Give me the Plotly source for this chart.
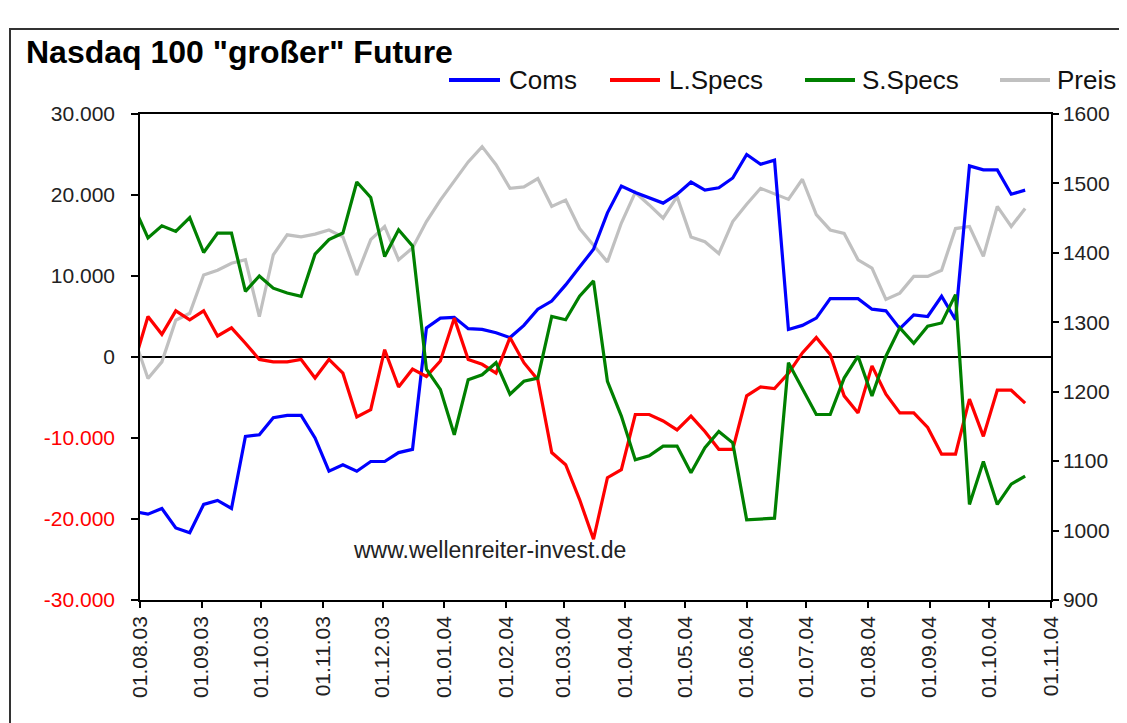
import pandas as pd
import plotly.graph_objects as go

# Weekly COT data (Tuesdays), first point lies just before the axis start
dates = pd.date_range("2003-07-29", periods=65, freq="7D")

coms = [-19050, -19400, -18700, -21100, -21700, -18200, -17700, -18700, -9800, -9600,
        -7500, -7200, -7200, -10000, -14100, -13300, -14100, -12900, -12900, -11800,
        -11400, 3600, 4800, 4900, 3500, 3400, 3000, 2400, 3900, 5900,
        6900, 8900, 11100, 13300, 17800, 21100, 20300, 19700, 19000, 20100,
        21600, 20600, 20900, 22100, 25000, 23800, 24300, 3400, 3900, 4800,
        7200, 7200, 7200, 5900, 5700, 3500, 5200, 5000, 7500, 4600,
        23600, 23100, 23100, 20100, 20600]

l_specs = [-800, 5000, 2800, 5700, 4600, 5700, 2600, 3600, 1700, -300,
           -600, -600, -300, -2600, -300, -2000, -7400, -6500, 900, -3700,
           -1500, -2400, -500, 4800, -300, -900, -2000, 2400, -700, -2800,
           -11800, -13300, -17600, -22500, -14900, -13900, -7100, -7100, -7900, -9000,
           -7300, -9200, -11400, -11400, -4800, -3700, -3900, -2000, 500, 2400,
           300, -4800, -6900, -1100, -4600, -6900, -6900, -8700, -12000, -12000,
           -5200, -9800, -4100, -4100, -5700]

s_specs = [18550, 14700, 16200, 15500, 17200, 12900, 15300, 15300, 8100, 10000,
           8500, 7900, 7500, 12700, 14500, 15300, 21600, 19700, 12400, 15700,
           13700, -1500, -4000, -9600, -2800, -2200, -700, -4600, -3000, -2600,
           5000, 4600, 7500, 9400, -3000, -7300, -12700, -12200, -11000, -11000,
           -14300, -11200, -9200, -10600, -20100, -20000, -19900, -700, -4000, -7100,
           -7100, -2600, 100, -4800, 100, 3600, 1700, 3800, 4200, 7700,
           -18200, -12900, -18200, -15700, -14700]

preis = [1278, 1219, 1243, 1303, 1313, 1368, 1375, 1385, 1390, 1308,
         1397, 1426, 1423, 1427, 1433, 1423, 1368, 1419, 1438, 1390,
         1407, 1445, 1476, 1504, 1531, 1553, 1527, 1493, 1495, 1507,
         1467, 1476, 1435, 1411, 1387, 1443, 1487, 1469, 1450, 1481,
         1423, 1416, 1399, 1445, 1470, 1493, 1485, 1477, 1506, 1455,
         1433, 1428, 1390, 1378, 1333, 1342, 1366, 1366, 1375, 1435,
         1438, 1395, 1467, 1438, 1464]

x_tick_labels = ["01.08.03", "01.09.03", "01.10.03", "01.11.03", "01.12.03",
                 "01.01.04", "01.02.04", "01.03.04", "01.04.04", "01.05.04",
                 "01.06.04", "01.07.04", "01.08.04", "01.09.04", "01.10.04", "01.11.04"]
left_tick_vals = [-30000, -20000, -10000, 0, 10000, 20000, 30000]
left_tick_text = ["-30.000", "-20.000", "-10.000", "0", "10.000", "20.000", "30.000"]

series_names = ["Coms", "L.Specs", "S.Specs", "Preis"]
series_colors = ["#0000FF", "#FF0000", "#008000", "#C0C0C0"]

FONT = "Liberation Sans, Arial, sans-serif"
OFF = 8  # page body margin; figure coordinates = page coordinates - OFF
W, H = 1127 - OFF, 723 - OFF
PL, PR, PT, PB = 140 - OFF, 1051 - OFF, 114 - OFF, 600 - OFF


def px_x(px):  # page pixel -> paper
    return (px - OFF - PL) / (PR - PL)


def px_y(py):
    return (PB - (py - OFF)) / (PB - PT)


fig = go.Figure()
# price on base axis (drawn below the others), right side
fig.add_trace(go.Scatter(x=dates, y=preis, name="Preis", yaxis="y", mode="lines",
                         line=dict(color=series_colors[3], width=3.2), showlegend=False))
for name, vals, col in zip(series_names[:3], [coms, l_specs, s_specs], series_colors[:3]):
    fig.add_trace(go.Scatter(x=dates, y=vals, name=name, yaxis="y2", mode="lines",
                             line=dict(color=col, width=3.2), showlegend=False))

tickvals_x = [pd.to_datetime(t, format="%d.%m.%y") for t in x_tick_labels]
left_text = [("<span style='color:#FF0000'>%s</span>" % t) if v < 0 else t
             for v, t in zip(left_tick_vals, left_tick_text)]

shapes = [
    dict(type="rect", xref="paper", yref="paper", x0=px_x(10), x1=px_x(1140),
         y0=px_y(740), y1=px_y(29), line=dict(color="#333333", width=2), layer="below"),
]
annotations = [
    dict(text="www.wellenreiter-invest.de", xref="paper", yref="paper",
         x=px_x(489), y=px_y(550), showarrow=False, xanchor="center", yanchor="middle",
         font=dict(family=FONT, size=23, color="#222222")),
]
legend_pos = [(449, 500, 507), (610, 660, 667), (805, 855, 860), (1000, 1050, 1055)]
for (a, b, c), name, col in zip(legend_pos, series_names, series_colors):
    shapes.append(dict(type="line", xref="paper", yref="paper", x0=px_x(a), x1=px_x(b),
                       y0=px_y(80), y1=px_y(80), line=dict(color=col, width=4)))
    annotations.append(dict(text=name, xref="paper", yref="paper", x=px_x(c), y=px_y(80),
                            showarrow=False, xanchor="left", yanchor="middle",
                            font=dict(family=FONT, size=26, color="#111111")))

fig.update_layout(
    width=W, height=H,
    margin=dict(l=PL, r=W - PR, t=PT, b=H - PB, autoexpand=False),
    paper_bgcolor="white", plot_bgcolor="white",
    separators=",.",
    showlegend=False,
    title=dict(text="<b>Nasdaq 100 \"großer\" Future</b>", xref="container", yref="container",
               x=(26 - OFF) / W, xanchor="left", y=1 - (52 - OFF) / H, yanchor="middle",
               font=dict(family=FONT, size=32, color="#000000")),
    xaxis=dict(type="date", range=["2003-08-01", "2004-11-01"], tickvals=tickvals_x,
               ticktext=x_tick_labels, tickangle=-90, ticks="outside", ticklen=6,
               tickcolor="black", tickwidth=1.5, showline=True, linecolor="black", linewidth=1.5,
               mirror=True, showgrid=False, zeroline=False,
               tickfont=dict(family=FONT, size=21, color="#222222")),
    yaxis=dict(side="right", range=[900, 1600], tick0=900, dtick=100, tickformat="d",
               ticks="outside", ticklen=6, tickcolor="black", tickwidth=1.5,
               showline=True, linecolor="black", linewidth=1.5, mirror=True,
               showgrid=False, zeroline=False,
               tickfont=dict(family=FONT, size=21, color="#222222")),
    yaxis2=dict(overlaying="y", side="left", range=[-30000, 30000], tickvals=left_tick_vals,
                ticktext=left_text, ticks="outside", ticklen=7, tickcolor="black", tickwidth=1.5,
                showline=True, linecolor="black", linewidth=1.5, showgrid=False,
                zeroline=True, zerolinecolor="black", zerolinewidth=1.5,
                ticklabelstandoff=12,
                tickfont=dict(family=FONT, size=21, color="#222222")),
    shapes=shapes,
    annotations=annotations,
)

fig.write_html("out.html")
